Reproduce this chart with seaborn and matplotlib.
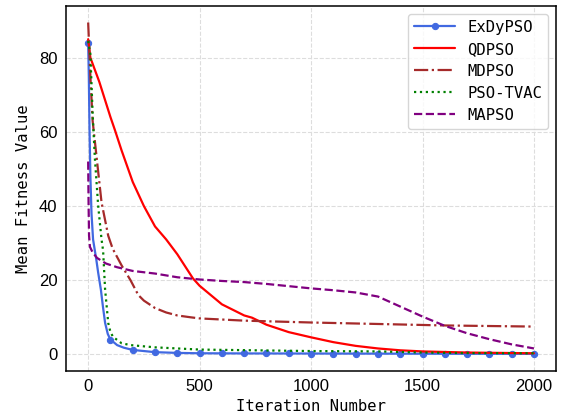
import matplotlib

matplotlib.use("Agg")

import matplotlib.pyplot as plt
import seaborn as sns

# ExDyPSO
exdy_iter = [0, 3, 6, 10, 15, 22, 30, 36, 45, 57, 66, 76, 88, 100, 130, 160, 200, 300, 400,
             500, 600, 700, 800, 900, 1000, 1100, 1200, 1300, 1400, 1500, 1600, 1700, 1800, 1900, 2000]
exdy_val = [84, 75, 61, 48, 38, 31, 28, 25.8, 22, 17.5, 13, 8.5, 5.5, 4, 2.5, 1.8, 1.2, 0.6, 0.4,
            0.3, 0.28, 0.26, 0.25, 0.24, 0.23, 0.22, 0.21, 0.2, 0.19, 0.18, 0.17, 0.16, 0.16, 0.15, 0.15]

# QDPSO
qd_iter = [0, 10, 50, 100, 120, 150, 200, 250, 300, 350, 400, 470, 500, 600, 700, 735, 800, 900,
           1000, 1100, 1200, 1300, 1400, 1500, 1700, 2000]
qd_val = [85, 80, 73.5, 64, 60.5, 55, 46.5, 40, 34.5, 31, 27, 20.5, 18.5, 13.5, 10.5, 9.9, 8, 6,
          4.6, 3.3, 2.3, 1.6, 1.1, 0.8, 0.5, 0.3]

# MDPSO
md_iter = [0, 10, 20, 40, 60, 90, 110, 150, 190, 225, 250, 300, 350, 400, 460, 500, 700, 1000,
           1300, 1600, 2000]
md_val = [89.5, 75, 63, 52, 41, 32, 28.5, 24, 20, 16, 14.5, 12.5, 11.3, 10.5, 10, 9.7, 9.1, 8.6,
          8.2, 7.8, 7.5]

# PSO-TVAC
tvac_iter = [0, 10, 20, 30, 45, 60, 67, 76, 90, 100, 112, 150, 190, 300, 500, 1000, 1300, 1500,
             1700, 2000]
tvac_val = [84.5, 81, 65, 53, 40, 31, 28, 17.5, 8.5, 6, 4.7, 3, 2.5, 1.9, 1.3, 0.9, 0.8, 0.5,
            0.35, 0.3]

# MAPSO
ma_iter = [0, 2, 4, 8, 20, 40, 80, 130, 200, 300, 400, 500, 600, 700, 800, 900, 1000, 1100,
           1200, 1300, 1400, 1500, 1600, 1700, 1800, 1900, 2000]
ma_val = [52, 40, 32, 29, 27.5, 26, 24.5, 23.5, 22.5, 21.8, 20.8, 20.2, 19.8, 19.5, 19, 18.4,
          17.8, 17.3, 16.7, 15.6, 12.9, 10.2, 7.7, 5.7, 4.1, 2.7, 1.6]

sns.set_style("whitegrid", {"grid.linestyle": "--", "grid.color": "#dddddd",
                            "axes.edgecolor": "black", "axes.labelcolor": "black",
                            "xtick.color": "black", "ytick.color": "black",
                            "text.color": "black"})
plt.rcParams["font.family"] = ["Liberation Sans", "DejaVu Sans"]

fig, ax = plt.subplots(figsize=(5.63, 4.16), dpi=100)
fig.subplots_adjust(left=0.117, right=0.988, top=0.986, bottom=0.108)

marks = [i for i, it in enumerate(exdy_iter) if it % 100 == 0]
sns.lineplot(x=exdy_iter, y=exdy_val, ax=ax, color="royalblue", linewidth=1.6, label="ExDyPSO",
             marker="o", markersize=4.5, markevery=marks, markeredgecolor="royalblue")
sns.lineplot(x=qd_iter, y=qd_val, ax=ax, color="red", linewidth=1.6, label="QDPSO")
sns.lineplot(x=md_iter, y=md_val, ax=ax, color="brown", linewidth=1.6, linestyle="-.",
             label="MDPSO")
sns.lineplot(x=tvac_iter, y=tvac_val, ax=ax, color="green", linewidth=1.6, linestyle=":",
             label="PSO-TVAC")
sns.lineplot(x=ma_iter, y=ma_val, ax=ax, color="purple", linewidth=1.6, linestyle="--",
             label="MAPSO")

ax.set_xlim(-100, 2100)
ax.set_ylim(-4.5, 94)
ax.set_xticks([0, 500, 1000, 1500, 2000])
ax.set_yticks([0, 20, 40, 60, 80])
ax.tick_params(axis="both", labelsize=12, length=0, pad=6, labelcolor="black")
for spine in ax.spines.values():
    spine.set_linewidth(1.1)
    spine.set_color("black")

mono = "DejaVu Sans Mono"
ax.set_xlabel("Iteration Number", fontsize=11.2, family=mono, labelpad=3, color="black")
ax.set_ylabel("Mean Fitness Value", fontsize=11.2, family=mono, labelpad=6, color="black")

ax.legend(loc="upper right", prop={"family": mono, "size": 11.2}, handlelength=2.6,
          labelspacing=0.45, numpoints=1, frameon=True, edgecolor="#cccccc", fancybox=True)

fig.savefig("out.png", dpi=100)
